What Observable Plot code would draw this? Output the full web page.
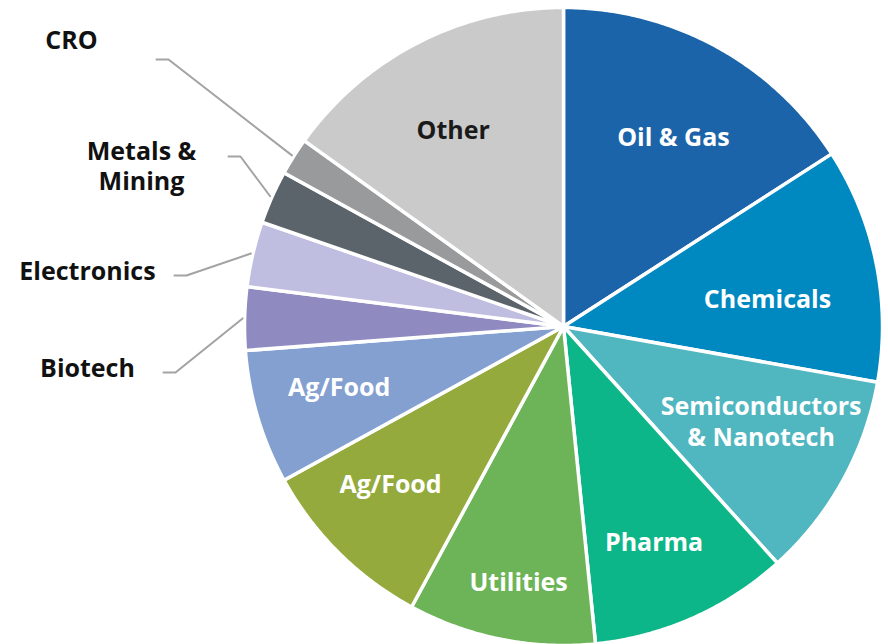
<!DOCTYPE html>
<html><head><meta charset="utf-8">
<script src="https://cdn.jsdelivr.net/npm/d3@7"></script>
<script src="https://cdn.jsdelivr.net/npm/@observablehq/plot@0.6"></script>
<style>body{margin:0;background:#fff;}</style>
</head><body><div id="chart"></div>
<script>
// ---- data (clockwise from 12 o'clock) ----
const sectors = ["Oil & Gas","Chemicals","Semiconductors\n& Nanotech","Pharma","Utilities","Ag/Food","Ag/Food","Biotech","Electronics","Metals &\nMining","CRO","Other"];
const shares  = [15.9, 11.9, 10.5, 10.1, 9.5, 9.1, 6.8, 3.2, 3.3, 2.7, 1.9, 15.1];
const colors  = ["#1b64a9","#0088c1","#50b6c0","#0db688","#6cb457","#94aa3c","#83a0d1","#8f8abf","#bfbde0","#5b636b","#999a9b","#cacaca"];
const labelColors = ["white","white","white","white","white","white","white","#111","#111","#111","#111","#1a1a1a"];
const insideLabel = [true,true,true,true,true,true,true,false,false,false,false,true];

// ---- layout ----
const W = 888, H = 644, cx = 563, cy = 326, R = 319;
const labelR  = [219,206,219,233,259,234,232,0,0,0,0,226];
const labelDx = [5,2,6,-4,6,-8,-2,0,0,0,0,-7];
const labelDy = [2,12,-12,2,1,-9,-6,0,0,0,0,4];
// outside labels: text anchor and leader-line start
const outside = {
  7:  {tx: 87,  ty: 367, lx: 163, ly: 372},
  8:  {tx: 87,  ty: 270, lx: 174, ly: 275},
  9:  {tx: 141, ty: 165, lx: 228, ly: 156},
  10: {tx: 71,  ty: 39,  lx: 156, ly: 59}
};

const total = d3.sum(shares);
const rad = Math.PI / 180;
const pt = (a, r) => [cx + r * Math.sin(a * rad), cy - r * Math.cos(a * rad)];
let acc = 0;
const slices = sectors.map((name, i) => {
  const a0 = acc / total * 360; acc += shares[i];
  const a1 = acc / total * 360;
  return {i, name, a0, a1, mid: (a0 + a1) / 2, color: colors[i]};
});

const marks = [];
for (const s of slices) {
  const pts = [{x: cx, y: cy}];
  const n = Math.max(2, Math.ceil((s.a1 - s.a0) / 0.5));
  for (let k = 0; k <= n; k++) {
    const [x, y] = pt(s.a0 + (s.a1 - s.a0) * k / n, R);
    pts.push({x, y});
  }
  pts.push({x: cx, y: cy});
  marks.push(Plot.line(pts, {x: "x", y: "y", fill: s.color, stroke: "white", strokeWidth: 3.5, strokeLinejoin: "round"}));
}

for (const s of slices) {
  if (!insideLabel[s.i]) continue;
  const [x, y] = pt(s.mid, labelR[s.i]);
  marks.push(Plot.text([{x: x + labelDx[s.i], y: y + labelDy[s.i], text: s.name}],
    {x: "x", y: "y", text: "text", fill: labelColors[s.i], fontSize: 25, fontWeight: 700, lineHeight: 1.22}));
}

const outerTexts = [];
for (const s of slices) {
  const o = outside[s.i];
  if (!o) continue;
  const [ex, ey] = pt(s.mid, R + 2);
  marks.push(Plot.line([{x: o.lx, y: o.ly}, {x: o.lx + 12, y: o.ly}, {x: ex, y: ey}], {x: "x", y: "y", stroke: "#a3a3a3", strokeWidth: 2}));
  outerTexts.push({x: o.tx, y: o.ty, text: s.name});
}
marks.push(Plot.text(outerTexts, {x: "x", y: "y", text: "text", fill: "#111", fontSize: 25, fontWeight: 700, lineHeight: 1.2}));

const chart = Plot.plot({
  width: W, height: H, margin: 0,
  x: {domain: [0, W], range: [0, W], axis: null},
  y: {domain: [0, H], range: [0, H], axis: null},
  style: {fontFamily: "'Open Sans', sans-serif", background: "white"},
  marks
});
document.getElementById("chart").appendChild(chart);
</script>
</body></html>
